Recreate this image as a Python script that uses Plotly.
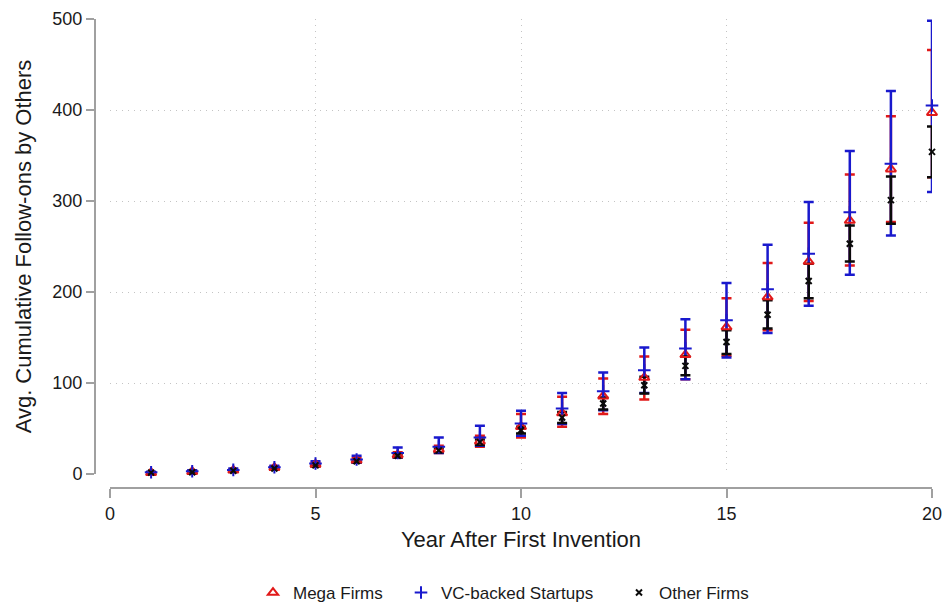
import plotly.graph_objects as go

years = list(range(1, 21))

mega_mean = [1.5, 2.5, 4, 7, 10.5, 15, 21, 27, 36, 52, 67, 85.5, 106, 131, 161.5, 194.4, 233.5, 278.5, 335, 397]
mega_lo = [1, 1.5, 3, 5.5, 8.5, 12.5, 18, 23, 30, 40, 52, 66, 82, 104, 130, 158, 190, 229, 277, 326]
mega_hi = [2, 3.5, 5, 8.5, 12.5, 17.5, 24, 31, 42, 66, 85, 105, 129, 158.6, 193, 232, 276, 329, 393, 466]

vc_mean = [2, 3, 4.5, 7.5, 11.5, 16, 23, 30, 40, 55.5, 72, 91, 114, 137.8, 169, 203, 242, 287.6, 341, 405]
vc_lo = [1.5, 2, 3.5, 6, 9, 12.5, 18, 23, 31, 42, 55, 70, 89, 104, 128, 155, 185, 219, 262, 310]
vc_hi = [2.5, 4, 6, 9, 14, 20, 29, 40, 53, 69.4, 89, 111.5, 139, 170, 210, 252, 299, 355, 421, 498]

oth_mean = [1.5, 2, 3.5, 6, 9.5, 14, 20, 26, 35, 48, 62, 77.5, 97.6, 118.8, 145, 175, 212, 253, 301, 354]
oth_lo = [1.2, 1.7, 3, 5.3, 8.5, 12.8, 18.5, 24, 32, 44.6, 56, 71, 88.5, 108.5, 132, 160, 193, 233.5, 275, 326]
oth_hi = [1.8, 2.3, 4, 6.7, 10.5, 15.2, 21.5, 28, 38, 52, 68, 84, 107, 129, 158, 191, 231, 273, 327, 382]

RED = "rgb(225,25,25)"
BLUE = "rgb(25,25,205)"
BLACK = "rgb(10,10,10)"

fig = go.Figure()


def bars(mean, lo, hi, color):
    fig.add_trace(go.Scatter(
        x=years, y=mean, mode="markers", showlegend=False, hoverinfo="skip",
        marker=dict(size=1, color="rgba(0,0,0,0)"),
        error_y=dict(type="data", symmetric=False,
                     array=[h - m for h, m in zip(hi, mean)],
                     arrayminus=[m - l for m, l in zip(mean, lo)],
                     color=color, thickness=2.5, width=5),
        cliponaxis=False,
    ))


bars(mega_mean, mega_lo, mega_hi, RED)
bars(vc_mean, vc_lo, vc_hi, BLUE)
bars(oth_mean, oth_lo, oth_hi, BLACK)

fig.add_trace(go.Scatter(
    x=years, y=mega_mean, mode="markers", name="Mega Firms", legend="legend",
    marker=dict(symbol="triangle-up-open", size=9, color=RED, line=dict(width=2, color=RED)),
    cliponaxis=False,
))
fig.add_trace(go.Scatter(
    x=years, y=vc_mean, mode="markers", name="VC-backed Startups", legend="legend2",
    marker=dict(symbol="cross-thin", size=9, color=BLUE, line=dict(width=2, color=BLUE)),
    cliponaxis=False,
))
fig.add_trace(go.Scatter(
    x=years, y=oth_mean, mode="markers", name="Other Firms", legend="legend3",
    marker=dict(symbol="x-thin", size=6, color=BLACK, line=dict(width=2, color=BLACK)),
    cliponaxis=False,
))

FONT = "Liberation Sans, Arial, sans-serif"
TXT = "#1a1a1a"
AX = "#a0a0a0"
GRID = "#c4c4c4"

leg_common = dict(orientation="h", yref="container", y=1 - 593 / 605, yanchor="middle",
                  xref="container", xanchor="left",
                  font=dict(family=FONT, size=17, color=TXT), bgcolor="rgba(0,0,0,0)")

fig.update_layout(
    width=945, height=605,
    margin=dict(l=95, r=13, t=19, b=117, autoexpand=False),
    paper_bgcolor="white", plot_bgcolor="white",
    font=dict(family=FONT, color=TXT),
    legend=dict(x=253 / 945, **leg_common),
    legend2=dict(x=401 / 945, **leg_common),
    legend3=dict(x=619 / 945, **leg_common),
    xaxis=dict(
        domain=[15 / 837, 1], range=[0, 20], anchor="free", position=0,
        tickvals=[0, 5, 10, 15, 20], ticks="outside", ticklen=9, tickwidth=1.5, tickcolor=AX,
        showline=True, linecolor=AX, linewidth=2,
        showgrid=True, gridcolor=GRID, gridwidth=1, griddash="1px,5px",
        zeroline=False,
        tickfont=dict(family=FONT, size=18, color=TXT),
        title=dict(text="Year After First Invention", font=dict(family=FONT, size=22, color=TXT), standoff=8),
    ),
    yaxis=dict(
        domain=[14 / 469, 1], range=[0, 500], anchor="free", position=0,
        tickvals=[0, 100, 200, 300, 400, 500], ticks="outside", ticklen=8, tickwidth=1.5, tickcolor=AX,
        showline=True, linecolor=AX, linewidth=2,
        showgrid=True, gridcolor=GRID, gridwidth=1, griddash="1px,5px",
        zeroline=False,
        tickfont=dict(family=FONT, size=18, color=TXT),
        title=dict(text="Avg. Cumulative Follow-ons by Others", font=dict(family=FONT, size=22, color=TXT), standoff=14),
    ),
)

fig.write_html("out.html")
